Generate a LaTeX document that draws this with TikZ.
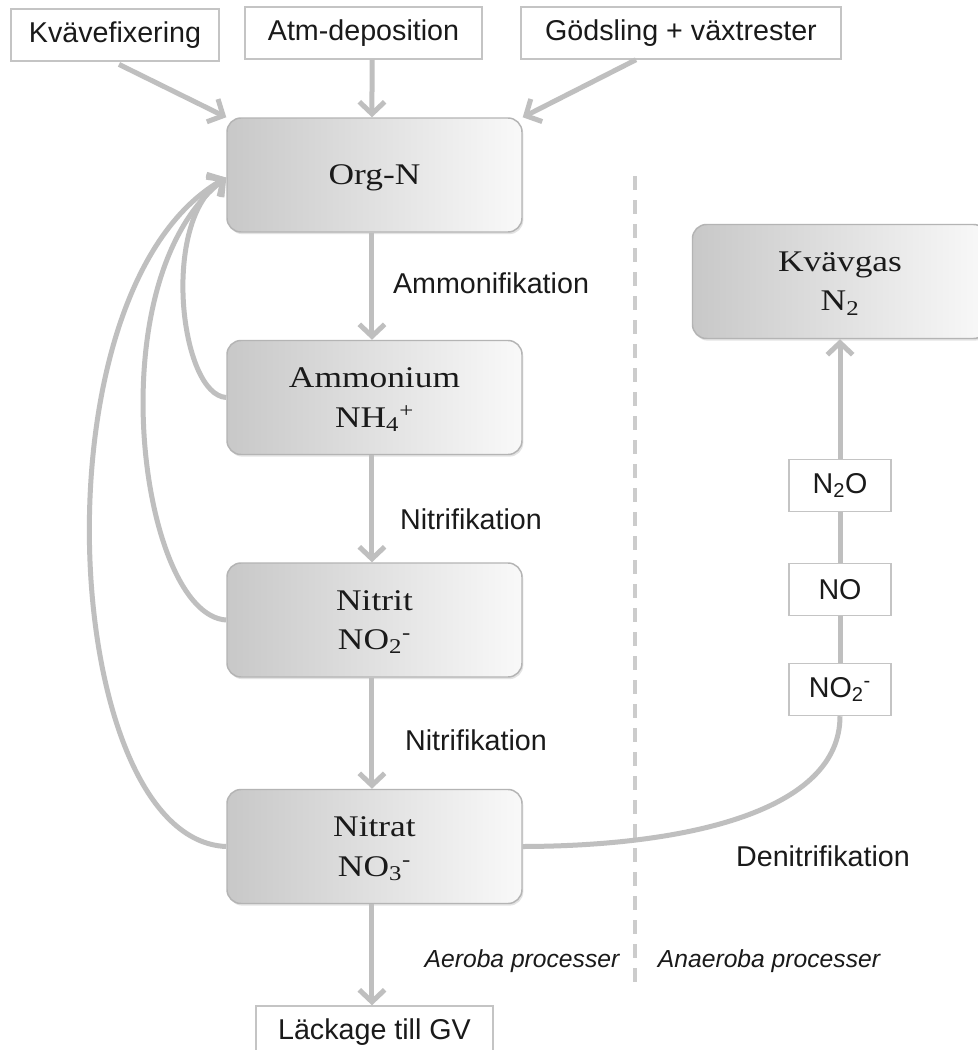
\documentclass[tikz,border=0pt]{standalone}
\usepackage{fontspec}
\setmainfont{Liberation Sans}
\newfontfamily\boxfont[FakeStretch=1.18]{Liberation Serif}
\usetikzlibrary{arrows.meta,shadows}
\definecolor{arrgray}{HTML}{BFBFBF}
\definecolor{boxline}{HTML}{B4B4B4}
\definecolor{boxleft}{HTML}{C8C8C8}
\definecolor{boxright}{HTML}{F9F9F9}
\definecolor{smallline}{HTML}{C4C4C4}
\definecolor{dashgray}{HTML}{CCCCCC}
\definecolor{txt}{HTML}{1A1A1A}
\begin{document}
\begin{tikzpicture}[x=0.75pt,y=-0.75pt,
  bigbox/.style={draw=boxline, line width=1.1pt, rounded corners=10.5pt,
    left color=boxleft, right color=boxright,
    minimum width=221.25pt, minimum height=85.5pt, align=center,
    font=\boxfont\fontsize{22.5}{29.5}\selectfont, text=txt, text depth=0pt,
    drop shadow={opacity=0.22, shadow xshift=1pt, shadow yshift=-1.6pt}},
  smallbox/.style={draw=smallline, line width=1.1pt, fill=white,
    minimum height=39pt, inner sep=0pt,
    font=\fontsize{21.5}{26}\selectfont, text=txt},
  arr/.style={draw=arrgray, line width=3.75pt,
    -{Straight Barb[length=9pt, width=19pt]}},
  plainline/.style={draw=arrgray, line width=3.75pt},
  lbl/.style={font=\fontsize{21.5}{26}\selectfont, text=txt},
  ilbl/.style={font=\itshape\fontsize{18.5}{22}\selectfont, text=txt},
  dline/.style={draw=dashgray, line width=3pt, dash pattern=on 10.5pt off 7.5pt}
]
\useasboundingbox (0,0) rectangle (978,1050);
\clip (0,0) rectangle (978,1050);
\fill[white] (0,0) rectangle (978,1050);

% dashed divider
\coordinate (dtop) at (635,176);
\coordinate (dbot) at (635,985);
\draw[dline] (dtop) -- (dbot);

% top input boxes
\node[smallbox, minimum width=156pt] (kvf) at (115,35) {Kvävefixering};
\node[smallbox, minimum width=177.75pt] (atm) at (363.5,33) {Atm-deposition};
\node[smallbox, minimum width=240pt] (gods) at (681,33) {Gödsling + växtrester};

% main chain
\node[bigbox] (orgn) at (374.5,175) {Org-N};
\node[bigbox] (amm) at (374.5,397.5) {Ammonium\\NH\textsubscript{4}\textsuperscript{+}};
\node[bigbox] (nitrit) at (374.5,620) {Nitrit\\NO\textsubscript{2}\textsuperscript{-}};
\node[bigbox] (nitrat) at (374.5,846.5) {Nitrat\\NO\textsubscript{3}\textsuperscript{-}};
\node[bigbox] (kvavgas) at (840,281.5) {Kvävgas\\N\textsubscript{2}};

% denitrification chain
\node[smallbox, minimum width=76.5pt] (n2o) at (840,485.5) {N\textsubscript{2}O};
\node[smallbox, minimum width=76.5pt] (no) at (840,589.5) {NO};
\node[smallbox, minimum width=76.5pt] (no2) at (840,689.5) {NO\textsubscript{2}\textsuperscript{-}};

% leakage
\node[smallbox, minimum width=177.75pt] (lack) at (374.5,1032) {Läckage till GV};

% inputs to Org-N
\draw[arr] ([xshift=3pt,yshift=-2pt]kvf.south) -- (orgn.north west);
\draw[arr] ([xshift=6.4pt]atm.south) -- ([xshift=-1.9pt]orgn.north);
\draw[arr] ([xshift=-33.75pt]gods.south) -- (orgn.north east);

% main vertical flow
\draw[arr] ([xshift=-1.9pt]orgn.south) -- ([xshift=-1.9pt]amm.north);
\draw[arr] ([xshift=-1.9pt]amm.south) -- ([xshift=-1.9pt]nitrit.north);
\draw[arr] ([xshift=-1.9pt]nitrit.south) -- ([xshift=-1.9pt]nitrat.north);
\draw[arr] ([xshift=-1.9pt]nitrat.south) -- ([xshift=-1.9pt]lack.north);

% feedback (immobilisation) curves
\draw[arr] (amm.west) .. controls (180,395) and (160,220) .. ([yshift=-2pt]orgn.west);
\draw[arr] (nitrit.west) .. controls (140,615) and (95,280) .. ([yshift=-2pt]orgn.west);
\draw[arr] (nitrat.west) .. controls (60,840) and (30,290) .. ([yshift=-2pt]orgn.west);

% denitrification
\draw[plainline] (nitrat.east) .. controls (690,846) and (840,810) .. (no2.south);
\draw[plainline] (no2.north) -- (no.south);
\draw[plainline] (no.north) -- (n2o.south);
\draw[arr] (n2o.north) -- (kvavgas.south);

% labels
\node[lbl] (lammon) at (491,283) {Ammonifikation};
\node[lbl] (lnitr1) at (471,519) {Nitrifikation};
\node[lbl] (lnitr2) at (476,740) {Nitrifikation};
\node[lbl] (ldenit) at (823,856) {Denitrifikation};
\node[ilbl] (laer) at (522,961) {Aeroba processer};
\node[ilbl] (lanaer) at (769,961) {Anaeroba processer};
\end{tikzpicture}
\end{document}
